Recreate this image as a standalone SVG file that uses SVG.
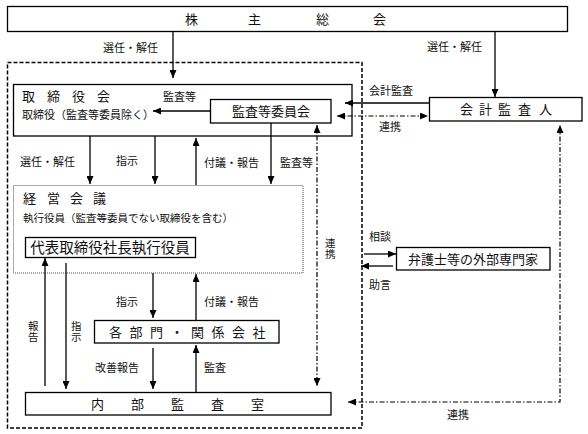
<svg xmlns="http://www.w3.org/2000/svg" width="588" height="434" viewBox="0 0 588 434">
<defs>
<marker id="ah" viewBox="0 0 8 7" refX="8" refY="3.5" markerWidth="8" markerHeight="7" markerUnits="userSpaceOnUse" orient="auto-start-reverse">
<path d="M0,0 L8,3.5 L0,7 z" fill="#000"/>
</marker>
</defs>
<style>
text{font-family:"Noto Sans CJK JP","Noto Sans",sans-serif;fill:#111}
.box{fill:#fff;stroke:#000;stroke-width:1.3}
.t13{font-size:13px}
.t11{font-size:11px}
.ln{fill:none;stroke:#000;stroke-width:1.3}
.arr{fill:none;stroke:#000;stroke-width:1.3;marker-end:url(#ah)}
.dd{fill:none;stroke:#000;stroke-width:1.2;stroke-dasharray:5 2 1.5 2}
.mc{text-anchor:middle}
</style>
<rect x="0" y="0" width="588" height="434" fill="#fff"/>
<g id="outer">
<rect x="7.5" y="62.5" width="354.5" height="365.5" fill="none" stroke="#000" stroke-width="1.5" stroke-dasharray="4 2"/>
</g>
<g id="shareholders">
<rect class="box" x="7.5" y="6.5" width="560" height="25"/>
<text class="t13" x="185 248 316 373" y="24">株主総会</text>
</g>
<g id="board">
<rect class="box" x="13.5" y="84.5" width="338.5" height="51.5"/>
<text class="t13" x="22 47 72 97" y="101">取締役会</text>
<text class="t11" x="22" y="119">取締役（監査等委員除く）</text>
</g>
<g id="audit-committee">
<rect class="box" x="210.5" y="99.5" width="120.5" height="23.5"/>
<text class="t13 mc" x="271" y="116">監査等委員会</text>
</g>
<g id="accounting-auditor">
<rect class="box" x="429.5" y="97.5" width="152.5" height="23.5"/>
<text class="t13" x="460 479 498 518 539" y="114">会計監査人</text>
</g>
<g id="management">
<rect x="13.5" y="185.5" width="289.5" height="87.5" fill="none" stroke="#555" stroke-width="1" stroke-dasharray="1 1"/>
<text class="t13" x="23 47 70 93" y="203">経営会議</text>
<text x="23" y="222" style="font-size:10.5px">執行役員（監査等委員でない取締役を含む）</text>
</g>
<g id="president">
<rect class="box" x="25.5" y="237.5" width="170" height="20"/>
<text class="mc" x="110" y="253" style="font-size:14.5px">代表取締役社長執行役員</text>
</g>
<g id="departments">
<rect class="box" x="94.5" y="320.5" width="184.5" height="22.5"/>
<text class="t13" x="109 129.5 150 170.5 191 211.5 232 252.5" y="337">各部門・関係会社</text>
</g>
<g id="internal-audit">
<rect class="box" x="25.5" y="392.5" width="305.5" height="22.5"/>
<text class="t13" x="91 131 171 211 251" y="409">内部監査室</text>
</g>
<g id="experts">
<rect class="box" x="396.5" y="247.5" width="153.5" height="22.5"/>
<text class="t13 mc" x="473" y="264">弁護士等の外部専門家</text>
</g>
<g id="connectors">
<path class="arr" d="M173 31.5 V78"/>
<path class="arr" d="M495 31.5 V97"/>
<path class="arr" d="M210 111 H153"/>
<path class="arr" d="M429 103 H345"/>
<path class="dd" d="M337 116 H428" marker-start="url(#ah)" marker-end="url(#ah)"/>
<path class="arr" d="M90 136 V184"/>
<path class="arr" d="M155 136 V184"/>
<path class="arr" d="M196 185 V138"/>
<path class="arr" d="M271 123 V184"/>
<path class="dd" d="M317 125 V386" marker-start="url(#ah)" marker-end="url(#ah)"/>
<path class="dd" d="M348 402 H560 V125" marker-start="url(#ah)" marker-end="url(#ah)"/>
<path class="arr" d="M45 386 V258"/>
<path class="arr" d="M66 263 V389"/>
<path class="arr" d="M153 273 V318"/>
<path class="arr" d="M196 320 V274"/>
<path class="arr" d="M153 348 V389"/>
<path class="arr" d="M196 392 V345"/>
<path class="arr" d="M364 254 H396"/>
<path class="arr" d="M393 266 H361"/>
</g>
<g id="labels">
<text class="t11" x="103" y="52">選任・解任</text>
<text class="t11" x="427" y="51">選任・解任</text>
<text class="t11" x="163" y="101">監査等</text>
<text class="t11" x="369" y="95">会計監査</text>
<text class="t11" x="379" y="131">連携</text>
<text class="t11" x="20" y="166">選任・解任</text>
<text class="t11" x="116" y="165">指示</text>
<text class="t11" x="204" y="167">付議・報告</text>
<text class="t11" x="280" y="167">監査等</text>
<text style="font-size:10.5px" x="325 325" y="247 258">連携</text>
<text class="t11" x="369" y="241">相談</text>
<text class="t11" x="369" y="289">助言</text>
<text class="t11" x="116" y="306">指示</text>
<text class="t11" x="204" y="306">付議・報告</text>
<text style="font-size:10.5px" x="28 28" y="330 341">報告</text>
<text style="font-size:10.5px" x="71 71" y="330 341">指示</text>
<text class="t11" x="95" y="372">改善報告</text>
<text class="t11" x="204" y="372">監査</text>
<text class="t11" x="447" y="419">連携</text>
</g>
</svg>
